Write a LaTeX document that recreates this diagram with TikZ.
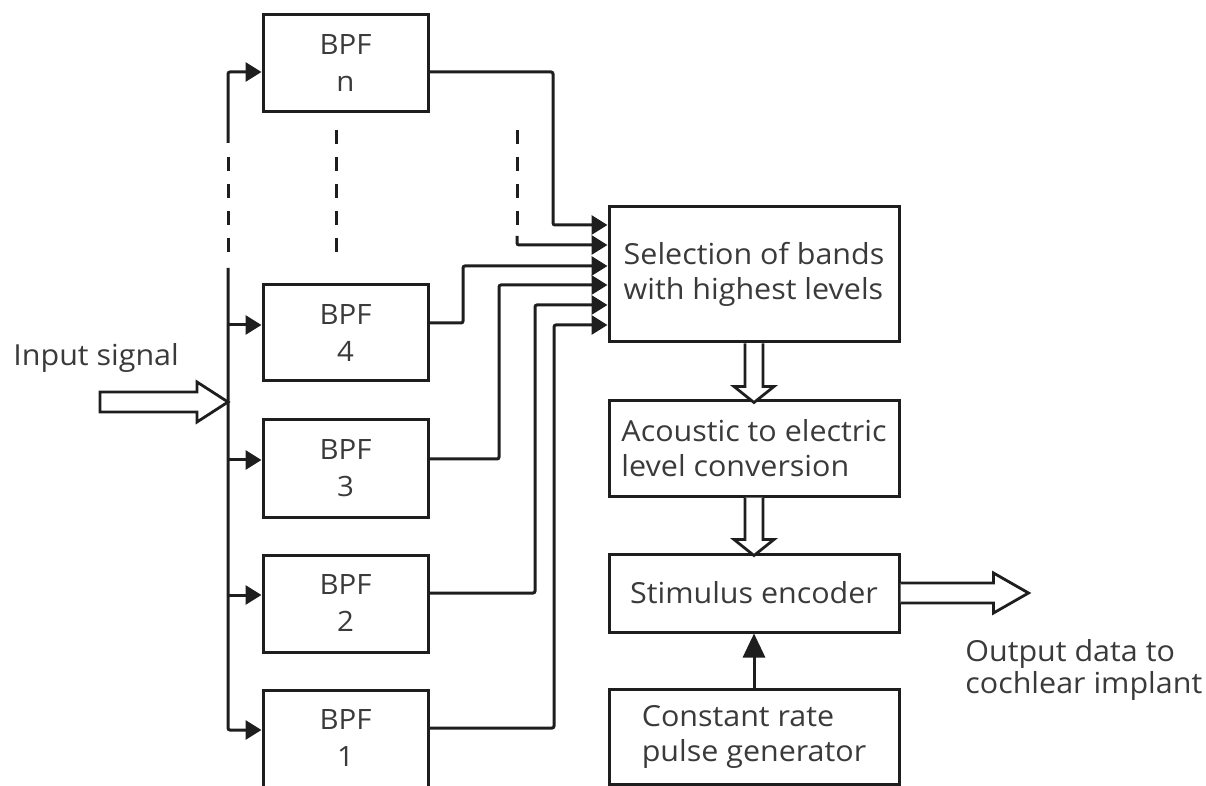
\documentclass[tikz,border=0pt]{standalone}
\usepackage{fontspec}
\setmainfont{Open Sans}[FakeStretch=1.05]
\usetikzlibrary{arrows.meta}
\definecolor{ln}{HTML}{1E1E1E}
\definecolor{tx}{HTML}{3A3A3A}
\tikzset{
  px/.style={x=0.5pt,y=-0.5pt},
  box/.style={draw=ln, line width=1.5pt, inner sep=0pt, text=tx,
    font=\fontsize{14.5}{17.5}\selectfont},
  bpf/.style={box, minimum width=82.5pt, minimum height=48.5pt, align=center,
    font=\fontsize{14}{18.5}\selectfont},
  wide/.style={box, minimum width=145pt, align=left},
  lbl/.style={text=tx, inner sep=0pt, font=\fontsize{14.5}{16}\selectfont},
  wire/.style={draw=ln, line width=1.5pt, rounded corners=1pt},
  arr/.style={-{Triangle[length=8pt,width=9.5pt]}},
  dsh/.style={draw=ln, line width=1.5pt, dash pattern=on 7pt off 6.5pt},
  hollow/.style={draw=ln, line width=1.4pt, fill=white, line join=miter},
}
\begin{document}
\begin{tikzpicture}[px]
\useasboundingbox (0,0) rectangle (1206,786);
\clip (0,0) rectangle (1206,786);

% filter boxes
\node[bpf] (bpfn) at (345.5,63) {BPF\\n};
\node[bpf, minimum height=48pt] (bpf4) at (345.5,333) {BPF\\4};
\node[bpf] (bpf3) at (345.5,468.5) {BPF\\3};
\node[bpf] (bpf2) at (345.5,603.5) {BPF\\2};
\node[bpf] (bpf1) at (345.5,738.5) {BPF\\1};

% processing boxes
\node[wide, minimum height=67.5pt] (sel) at (754,274.5) {Selection of bands\\with highest levels};
\node[wide, minimum height=47.5pt] (aco) at (754,448.5) {Acoustic to electric\\level conversion};
\node[wide, minimum height=39pt] (stim) at (754,593) {Stimulus encoder};
\node[wide, minimum height=47.5pt] (crp) at (754,736.5) {Constant rate\\pulse generator};

% labels
\node[lbl, anchor=base west] (inp) at (13,366) {Input signal};
\node[lbl, anchor=west, align=left] (out) at (965,670) {Output data to\\cochlear implant};

% bus
\coordinate (jn) at (228,72);
\coordinate (j4) at (228,325);
\coordinate (j3) at (228,460);
\coordinate (j2) at (228,595);
\coordinate (j1) at (228,730);
\coordinate (jin) at (228,402);
\coordinate (ba) at (228,143);
\coordinate (bb) at (228,157);
\coordinate (bc) at (228,255);
\coordinate (bd) at (228,268);
\draw[wire, arr] (ba) -- (jn) -- (jn -| bpfn.west);
\draw[dsh] (bb) -- (bc);
\draw[wire, arr] (bd) -- (j1) -- (j1 -| bpf1.west);
\draw[wire, arr] (j4) -- (j4 -| bpf4.west);
\draw[wire, arr] (j3) -- (j3 -| bpf3.west);
\draw[wire, arr] (j2) -- (j2 -| bpf2.west);

% input arrow
\draw[hollow, shift={(jin)}] (-128,-10) -- (-31,-10) -- (-31,-20) -- (0,0) -- (-31,20) -- (-31,10) -- (-128,10) -- cycle;

% dashed ellipsis between filters
\draw[dsh] (336,130) -- (336,255);

% filter outputs to selection
\draw[wire, arr] (jn -| bpfn.east) -- (553,72) -- (553,225) -- (sel.west |- 0,225);
\draw[dsh] (517,130) -- (517,238);
\draw[wire, arr] (517,236) -- (517,245) -- (sel.west |- 0,245);
\draw[wire, arr] (bpf4.east |- 0,323) -- (463,323) -- (463,266) -- (sel.west |- 0,266);
\draw[wire, arr] (bpf3.east |- 0,459) -- (499,459) -- (499,285) -- (sel.west |- 0,285);
\draw[wire, arr] (bpf2.east |- 0,593) -- (535,593) -- (535,305) -- (sel.west |- 0,305);
\draw[wire, arr] (bpf1.east |- 0,728) -- (554,728) -- (554,325) -- (sel.west |- 0,325);

% hollow arrows between processing stages
\draw[hollow, shift={(sel.south)}] (-9,0) -- (-9,43) -- (-20,43) -- (0,59) -- (20,43) -- (9,43) -- (9,0);
\draw[hollow, shift={(aco.south)}] (-9,0) -- (-9,42) -- (-20,42) -- (0,58) -- (20,42) -- (9,42) -- (9,0);
\draw[hollow, shift={(stim.east)}] (0,-10) -- (93,-10) -- (93,-20) -- (128,0) -- (93,20) -- (93,10) -- (0,10);

% pulse generator to encoder
\draw[wire, -{Triangle[length=12pt,width=11pt]}] (crp.north) -- (stim.south);
\end{tikzpicture}
\end{document}
